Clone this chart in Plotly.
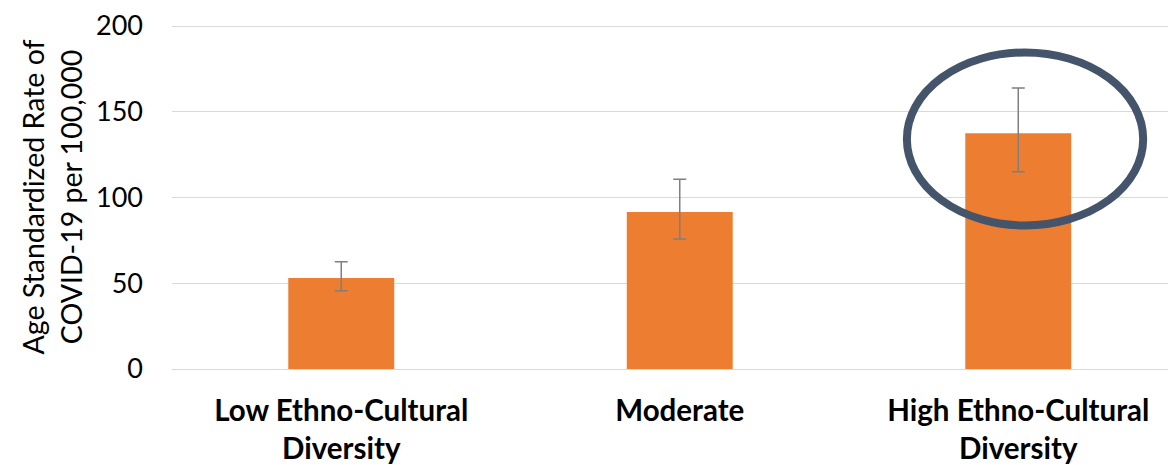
import plotly.graph_objects as go

categories = ["Low Ethno-Cultural<br>Diversity", "Moderate", "High Ethno-Cultural<br>Diversity"]
rates = [53.1, 91.6, 137.5]
upper_ci = [62.5, 110.6, 163.9]
lower_ci = [45.6, 75.8, 115.0]
y_ticks = [0, 50, 100, 150, 200]

err_plus = [u - r for u, r in zip(upper_ci, rates)]
err_minus = [r - l for r, l in zip(rates, lower_ci)]

fig = go.Figure()
fig.add_trace(go.Bar(
    x=categories, y=rates,
    marker=dict(color="#ED7D31", line=dict(width=0)),
    width=0.313,
    error_y=dict(type="data", array=err_plus, arrayminus=err_minus,
                 color="#7f7f7f", thickness=1.5, width=6.5, visible=True),
))

# highlight ellipse around the high-diversity bar
fig.add_shape(type="circle", xref="x", yref="y",
              x0=1.671, x1=2.369, y0=83.7, y1=184.6,
              line=dict(color="#44546A", width=8), fillcolor="rgba(0,0,0,0)")

fig.update_layout(
    width=1168, height=457,
    margin=dict(l=164, r=0, t=16, b=94),
    plot_bgcolor="white", paper_bgcolor="white",
    showlegend=False,
    font=dict(family="Lato", color="#000000"),
)
fig.update_xaxes(
    range=[-0.5, 2.466], showgrid=False, showline=False, zeroline=False,
    tickfont=dict(family="Lato", size=29.5, color="#000000", weight="bold"),
    ticks="", ticklabelstandoff=21,
)
fig.update_yaxes(
    range=[0, 200.6], tickvals=y_ticks,
    showgrid=True, gridcolor="#d9d9d9", gridwidth=1.3,
    zeroline=True, zerolinecolor="#d9d9d9", zerolinewidth=1.3,
    showline=False, ticks="",
    tickfont=dict(family="Lato", size=27, color="#000000"),
    ticklabelstandoff=28, ticklabeloverflow="allow",
    title=dict(text="Age Standardized Rate of<br>COVID-19 per 100,000",
               font=dict(family="Lato", size=28.5, color="#000000"), standoff=5),
)

fig.write_html("out.html")
